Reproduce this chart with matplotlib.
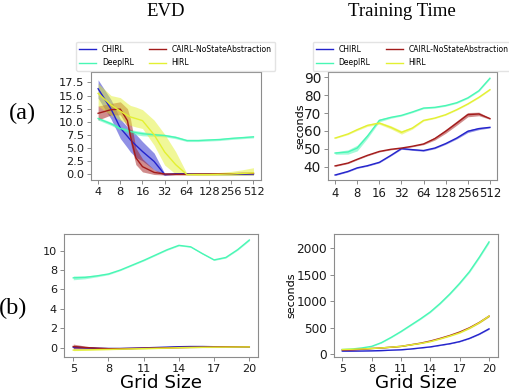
import numpy as np
import matplotlib
matplotlib.use("Agg")
import matplotlib.pyplot as plt
from matplotlib.lines import Line2D

# ---------------- data ----------------
methods = ["CHIRL", "DeepIRL", "CAIRL-NoStateAbstraction", "HIRL"]
colors = ["#2323cc", "#48f7b4", "#a31b1b", "#e3f032"]

# (a) grid sizes on a log2 axis
evd_a_sizes = [4, 6, 8, 10, 11, 13, 16, 23, 32, 45, 64, 91, 128, 181, 256, 362, 512]
evd_a_mean = {
    "CHIRL":   [16.3, 12.4, 8.8, 7.2, 6.5, 5.5, 4.3, 2.4, -0.1, 0.05, 0.05, 0.0, 0.0, -0.05, -0.05, -0.05, 0.0],
    "DeepIRL": [10.6, 9.6, 8.7, 8.3, 8.1, 7.9, 7.7, 7.5, 7.35, 7.0, 6.4, 6.4, 6.5, 6.6, 6.8, 6.95, 7.1],
    "CAIRL-NoStateAbstraction": [11.6, 12.3, 12.4, 10.2, 7.2, 3.1, 1.4, 0.3, 0.0, -0.05, -0.05, 0.0, 0.0, 0.05, 0.05, 0.1, 0.1],
    "HIRL":    [15.4, 13.2, 12.0, 11.2, 10.9, 10.6, 10.2, 7.5, 4.2, 1.8, -0.1, -0.1, -0.1, -0.05, 0.0, 0.1, 0.2],
}
evd_a_lo = {
    "CHIRL":   [14.5, 10.5, 6.8, 5.0, 4.2, 3.2, 2.5, 0.8, -0.3, -0.1, -0.1, -0.15, -0.15, -0.2, -0.2, -0.2, -0.2],
    "DeepIRL": [10.3, 9.3, 8.4, 7.9, 7.7, 7.5, 7.3, 7.2, 7.1, 6.75, 6.2, 6.2, 6.3, 6.4, 6.6, 6.75, 6.9],
    "CAIRL-NoStateAbstraction": [10.3, 11.3, 11.3, 9.0, 6.0, 1.8, 0.4, -0.1, -0.2, -0.2, -0.2, -0.15, -0.15, -0.1, -0.1, -0.1, -0.1],
    "HIRL":    [13.0, 11.2, 10.3, 9.6, 9.3, 9.0, 8.7, 5.5, 1.7, 0.0, -0.2, -0.3, -0.3, -0.3, -0.3, -0.25, -0.2],
}
evd_a_hi = {
    "CHIRL":   [18.0, 14.2, 10.5, 9.0, 8.5, 7.6, 6.2, 4.0, 0.1, 0.2, 0.2, 0.1, 0.1, 0.05, 0.05, 0.05, 0.1],
    "DeepIRL": [10.9, 9.9, 9.0, 8.7, 8.5, 8.3, 8.1, 7.8, 7.6, 7.25, 6.6, 6.6, 6.7, 6.8, 7.0, 7.15, 7.3],
    "CAIRL-NoStateAbstraction": [13.0, 13.5, 13.8, 12.5, 10.5, 5.0, 2.9, 0.8, 0.15, 0.1, 0.1, 0.15, 0.15, 0.2, 0.2, 0.25, 0.3],
    "HIRL":    [17.3, 15.0, 14.6, 13.5, 13.1, 12.8, 12.3, 10.3, 7.6, 4.3, 0.1, 0.15, 0.2, 0.3, 0.5, 0.8, 1.2],
}

time_a_sizes = [4, 6, 8, 11, 16, 23, 32, 45, 64, 91, 128, 181, 256, 362, 512]
time_a_mean = {
    "CHIRL":   [35.3, 37.3, 39.3, 40.5, 42.4, 46.3, 50.1, 49.5, 49.0, 50.4, 52.9, 56.0, 59.8, 61.3, 62.0],
    "DeepIRL": [47.6, 48.2, 50.4, 57.0, 65.9, 67.6, 68.7, 70.6, 72.8, 73.2, 74.2, 75.8, 78.5, 82.5, 89.5],
    "CAIRL-NoStateAbstraction": [40.4, 42.0, 44.1, 46.3, 48.5, 49.7, 50.4, 51.4, 52.7, 55.7, 59.8, 64.4, 69.1, 69.5, 66.9],
    "HIRL":    [56.0, 58.3, 60.7, 63.1, 64.4, 62.0, 59.2, 61.6, 65.9, 67.2, 69.1, 71.9, 75.1, 78.8, 83.1],
}
time_a_spread = {
    "CHIRL":   [0.3, 0.3, 0.3, 0.3, 0.3, 0.3, 0.4, 0.4, 0.4, 0.4, 0.4, 0.5, 0.7, 0.6, 0.3],
    "DeepIRL": [0.7, 1.2, 1.6, 1.2, 0.8, 0.5, 0.4, 0.4, 0.4, 0.4, 0.4, 0.4, 0.4, 0.4, 0.4],
    "CAIRL-NoStateAbstraction": [0.3, 0.3, 0.3, 0.3, 0.3, 0.3, 0.3, 0.3, 0.4, 0.8, 1.1, 1.2, 1.2, 1.0, 0.4],
    "HIRL":    [0.3, 0.4, 0.5, 0.6, 0.7, 0.9, 1.0, 0.6, 0.4, 0.3, 0.3, 0.3, 0.3, 0.3, 0.3],
}
ticks_a = [4, 8, 16, 32, 64, 128, 256, 512]

# (b) grid sizes on a linear axis
sizes_b = list(range(5, 21))
evd_b_mean = {
    "CHIRL":   [0.05, 0.0, -0.05, -0.08, -0.08, -0.05, -0.02, 0.02, 0.06, 0.1, 0.12, 0.12, 0.1, 0.1, 0.1, 0.1],
    "DeepIRL": [7.2, 7.25, 7.4, 7.6, 8.0, 8.5, 9.0, 9.55, 10.1, 10.55, 10.4, 9.7, 9.05, 9.3, 10.1, 11.1],
    "CAIRL-NoStateAbstraction": [0.12, 0.02, -0.05, -0.1, -0.1, -0.08, -0.05, -0.03, 0.0, 0.02, 0.04, 0.06, 0.08, 0.1, 0.1, 0.1],
    "HIRL":    [-0.25, -0.23, -0.2, -0.18, -0.15, -0.12, -0.1, -0.07, -0.04, 0.0, 0.02, 0.04, 0.05, 0.06, 0.07, 0.08],
}
evd_b_spread = {
    "CHIRL":   [0.15, 0.1, 0.05, 0.04, 0.04, 0.04, 0.04, 0.05, 0.06, 0.08, 0.09, 0.09, 0.08, 0.06, 0.05, 0.04],
    "DeepIRL": [0.2, 0.15, 0.1, 0.08, 0.06, 0.06, 0.06, 0.06, 0.06, 0.06, 0.06, 0.06, 0.06, 0.06, 0.06, 0.08],
    "CAIRL-NoStateAbstraction": [0.25, 0.15, 0.08, 0.05, 0.04, 0.04, 0.04, 0.04, 0.04, 0.04, 0.04, 0.04, 0.04, 0.04, 0.04, 0.04],
    "HIRL":    [0.06, 0.05, 0.05, 0.04, 0.04, 0.04, 0.04, 0.04, 0.04, 0.04, 0.04, 0.04, 0.04, 0.04, 0.04, 0.04],
}
time_b_mean = {
    "CHIRL":   [60, 60, 62, 65, 70, 78, 85, 100, 120, 140, 170, 200, 240, 300, 380, 480],
    "DeepIRL": [90, 100, 120, 150, 220, 320, 430, 550, 670, 800, 960, 1140, 1340, 1560, 1830, 2120],
    "CAIRL-NoStateAbstraction": [80, 85, 95, 110, 120, 135, 150, 180, 210, 250, 300, 355, 420, 500, 600, 720],
    "HIRL":    [90, 95, 100, 110, 120, 135, 150, 178, 205, 240, 290, 345, 405, 490, 595, 720],
}
time_b_spread = {
    "CHIRL":   [3, 3, 3, 3, 3, 3, 3, 4, 4, 5, 5, 6, 6, 7, 8, 9],
    "DeepIRL": [5, 5, 6, 7, 8, 9, 10, 11, 12, 13, 14, 15, 17, 19, 21, 23],
    "CAIRL-NoStateAbstraction": [4, 4, 4, 4, 4, 5, 5, 5, 6, 6, 7, 8, 9, 10, 11, 12],
    "HIRL":    [4, 4, 4, 4, 4, 5, 5, 5, 6, 6, 7, 8, 9, 10, 11, 12],
}
ticks_b = [5, 8, 11, 14, 17, 20]

# ---------------- figure ----------------
W, H = 509, 390
fig = plt.figure(figsize=(W / 100, H / 100), dpi=100)

def rect(x0, y0, x1, y1):
    return [x0 / W, 1 - y1 / H, (x1 - x0) / W, (y1 - y0) / H]

ax_tl = fig.add_axes(rect(91, 72, 261, 180))
ax_tr = fig.add_axes(rect(328, 72, 497, 180))
ax_bl = fig.add_axes(rect(64, 234, 258, 357))
ax_br = fig.add_axes(rect(334, 234, 498, 357))

lw = 1.0
alpha = 0.5

for m, c in zip(methods, colors):
    ax_tl.fill_between(evd_a_sizes, evd_a_lo[m], evd_a_hi[m], color=c, alpha=alpha, lw=0)
    ax_tl.plot(evd_a_sizes, evd_a_mean[m], color=c, lw=lw)

    mu = np.array(time_a_mean[m]); sp = np.array(time_a_spread[m])
    ax_tr.fill_between(time_a_sizes, mu - sp, mu + sp, color=c, alpha=alpha, lw=0)
    ax_tr.plot(time_a_sizes, mu, color=c, lw=lw)

    mu = np.array(evd_b_mean[m]); sp = np.array(evd_b_spread[m])
    ax_bl.fill_between(sizes_b, mu - sp, mu + sp, color=c, alpha=alpha, lw=0)
    ax_bl.plot(sizes_b, mu, color=c, lw=lw)

    mu = np.array(time_b_mean[m]); sp = np.array(time_b_spread[m])
    ax_br.fill_between(sizes_b, mu - sp, mu + sp, color=c, alpha=alpha, lw=0)
    ax_br.plot(sizes_b, mu, color=c, lw=lw)

for ax in (ax_tl, ax_tr):
    ax.set_xscale("log", base=2)
    ax.set_xticks(ticks_a)
    ax.set_xticklabels([str(t) for t in ticks_a])
    ax.xaxis.set_minor_locator(matplotlib.ticker.NullLocator())

ax_tl.set_xlim(4 * 2 ** -0.32, 4 * 2 ** 7.34)
ax_tl.set_ylim(-1.15, 19.5)
ax_tl.set_yticks(np.arange(0, 17.6, 2.5))
ax_tl.set_yticklabels([f"{v:.1f}" for v in np.arange(0, 17.6, 2.5)])

ax_tr.set_xlim(4 * 2 ** -0.32, 4 * 2 ** 7.32)
ax_tr.set_ylim(32.5, 93)
ax_tr.set_yticks([40, 50, 60, 70, 80, 90])

ax_bl.set_xlim(4.21, 20.74)
ax_bl.set_ylim(-0.96, 11.72)
ax_bl.set_xticks(ticks_b)
ax_bl.set_yticks([0, 2, 4, 6, 8, 10])

ax_br.set_xlim(4.15, 20.92)
ax_br.set_ylim(-51, 2270)
ax_br.set_xticks(ticks_b)
ax_br.set_yticks([0, 500, 1000, 1500, 2000])

tick_sizes = {ax_tl: (8.2, 8.2), ax_tr: (8.4, 9.8), ax_bl: (8.1, 8.1), ax_br: (8.0, 8.7)}
for ax, (fx, fy) in tick_sizes.items():
    for s in ax.spines.values():
        s.set_color("#8c8c8c")
        s.set_linewidth(0.8)
    ax.tick_params(axis="both", colors="#8c8c8c", labelcolor="#1a1a1a",
                   length=3, width=0.7, pad=2)
    ax.tick_params(axis="x", labelsize=fx)
    ax.tick_params(axis="y", labelsize=fy)

# axis labels
for ax, x_px, x0, w in ((ax_tr, 300.5, 328, 169), (ax_br, 291.5, 334, 164)):
    ax.set_ylabel("seconds", fontsize=8.0, va="center")
    ax.yaxis.set_label_coords((x_px - x0) / w, 0.5)

for ax in (ax_bl, ax_br):
    ax.set_xlabel("Grid Size", fontsize=13.2, va="baseline")
    ax.xaxis.set_label_coords(0.5, -(387.5 - 357) / 123)

# legends
handles = [Line2D([0], [0], color=c, lw=1.0) for c in colors]
for x0 in (76, 312.7):
    fig.legend(handles, methods, loc="upper left",
               bbox_to_anchor=(x0 / W, 1 - 41.7 / H), ncol=2, fontsize=5.5,
               frameon=True, fancybox=True, edgecolor="#dddddd",
               handlelength=2.2, handletextpad=0.75, columnspacing=2.0,
               borderpad=0.45, labelspacing=0.55, borderaxespad=0)

serif = ["Liberation Serif", "DejaVu Serif"]
fig.text(166 / W, 1 - 12 / H, "EVD", family=serif, fontsize=13.5, ha="center", va="center")
fig.text(402 / W, 1 - 12 / H, "Training Time", family=serif, fontsize=13.5, ha="center", va="center")
fig.text(22 / W, 1 - 113 / H, "(a)", family=serif, fontsize=17.5, ha="center", va="center")
fig.text(13 / W, 1 - 308 / H, "(b)", family=serif, fontsize=17.5, ha="center", va="center")

fig.savefig("out.png", dpi=100)
